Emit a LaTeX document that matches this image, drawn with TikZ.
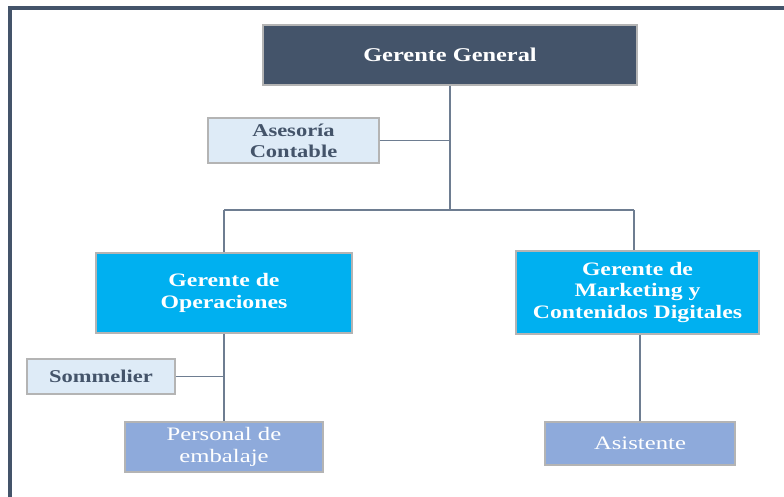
\documentclass[tikz,border=0pt]{standalone}
\usepackage{fontspec}
\setmainfont{Liberation Serif}[FakeStretch=1.25]
\newfontfamily\regfont{Liberation Serif}[FakeStretch=1.3]
\definecolor{slate}{HTML}{44546A}
\definecolor{paleblue}{HTML}{DEEBF7}
\definecolor{brightblue}{HTML}{00B0F0}
\definecolor{midblue}{HTML}{8EAADB}
\definecolor{boxgray}{HTML}{B4B4B4}
\definecolor{linegray}{HTML}{6E7D91}
\tikzset{
  orgbox/.style={draw=boxgray, line width=1.3pt, inner sep=0pt, align=center,
    font=\fontsize{19}{21.5}\selectfont\bfseries},
  topbox/.style={orgbox, fill=slate, text=white, font=\fontsize{19.5}{21.5}\selectfont\bfseries},
  staffbox/.style={orgbox, fill=paleblue, text=slate, font=\fontsize{18}{21}\selectfont\bfseries},
  mgrbox/.style={orgbox, fill=brightblue, text=white},
  workbox/.style={orgbox, fill=midblue, text=white, font=\fontsize{19}{21.5}\selectfont\regfont},
  link/.style={draw=linegray, line width=1.6pt},
  frameline/.style={draw=slate, line width=3.5pt}
}
\begin{document}
\begin{tikzpicture}[x=1pt,y=-1pt]
\useasboundingbox (0,0) rectangle (784,497);
\fill[white] (0,0) rectangle (784,497);
\draw[frameline] (10,497) -- (10,8) -- (784,8);

\node[topbox, minimum width=374pt, minimum height=60pt] (GG) at (450,55) {Gerente General};
\node[staffbox, minimum width=171pt, minimum height=45pt] (AC) at (293.5,140.5) {Asesoría\\Contable};
\node[mgrbox, minimum width=256pt, minimum height=80pt] (GO) at (224,293) {Gerente de\\Operaciones};
\node[mgrbox, minimum width=243pt, minimum height=83pt] (GM) at (637.5,292.5) {Gerente de\\Marketing y\\Contenidos Digitales};
\node[staffbox, minimum width=148pt, minimum height=35pt] (SO) at (101,376.5) {Sommelier};
\node[workbox, minimum width=198pt, minimum height=50pt] (PE) at (224,447) {Personal de\\embalaje};
\node[workbox, minimum width=190pt, minimum height=43pt] (AS) at (640,443.5) {Asistente};

\coordinate (jt) at (450,210);
\coordinate (ja) at (450,140.5);
\coordinate (jl) at (224,210);
\coordinate (jr) at (634,210);
\coordinate (js) at (224,376.5);

\draw[link] (GG.south) -- (jt);
\draw[link] (AC.east) -- (ja);
\draw[link] (jl) -- (jr);
\draw[link] (jl) -- (GO.north);
\draw[link] (jr) -- (jr |- GM.north);
\draw[link] (GO.south) -- (PE.north);
\draw[link] (SO.east) -- (js);
\draw[link] (AS.north) -- (AS.north |- GM.south);
\end{tikzpicture}
\end{document}
